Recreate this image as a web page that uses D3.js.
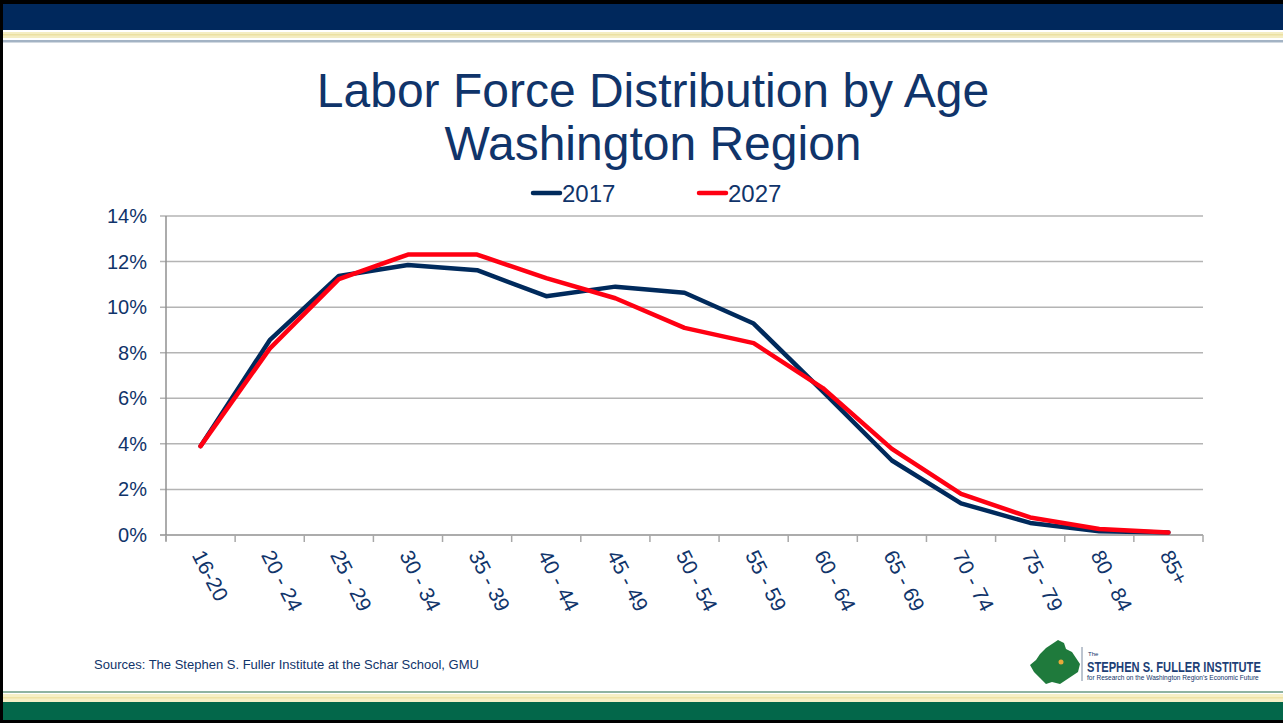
<!DOCTYPE html>
<html>
<head>
<meta charset="utf-8">
<script src="https://cdn.jsdelivr.net/npm/d3@7"></script>
<style>
  body { margin: 0; background: #fff; }
  svg { display: block; font-family: "Liberation Sans", Arial, sans-serif; }
</style>
</head>
<body>
<svg id="slide" width="1283" height="723"></svg>
<script>
// chart data
var ageGroups = ["16-20", "20 - 24", "25 - 29", "30 - 34", "35 - 39", "40 - 44", "45 - 49",
                 "50 - 54", "55 - 59", "60 - 64", "65 - 69", "70 - 74", "75 - 79", "80 - 84", "85+"]
var share2017 = [3.9, 8.55, 11.37, 11.85, 11.62, 10.48, 10.9, 10.63, 9.28, 6.3, 3.27, 1.39, 0.53, 0.16, 0.11]
var share2027 = [3.9, 8.18, 11.23, 12.31, 12.31, 11.27, 10.39, 9.09, 8.42, 6.45, 3.78, 1.8, 0.77, 0.26, 0.11]
var yTicks = [0, 2, 4, 6, 8, 10, 12, 14]
var seriesNames = ["2017", "2027"]

var navy = "#002a5c"
var red = "#ff0012"
var textColor = "#10346a"

var svg = d3.select("svg#slide")

// slide frame: top and bottom bands
svg.append("rect").attr("x", 0).attr("y", 0).attr("width", 1283).attr("height", 723).attr("fill", "#000")
svg.append("rect").attr("x", 3).attr("y", 4).attr("width", 1280).attr("height", 716).attr("fill", "#fff")
svg.append("rect").attr("x", 3).attr("y", 4).attr("width", 1280).attr("height", 26).attr("fill", "#00285c")
svg.append("rect").attr("x", 3).attr("y", 32).attr("width", 1280).attr("height", 6).attr("fill", "#f4edc2")
svg.append("rect").attr("x", 3).attr("y", 34).attr("width", 1280).attr("height", 1.5).attr("fill", "#ebe0a2")
svg.append("rect").attr("x", 3).attr("y", 40).attr("width", 1280).attr("height", 2.5).attr("fill", "#a3b3c4")

svg.append("rect").attr("x", 3).attr("y", 691).attr("width", 1280).attr("height", 2).attr("fill", "#8fb3a2")
svg.append("rect").attr("x", 3).attr("y", 694).attr("width", 1280).attr("height", 8).attr("fill", "#f6efc6")
svg.append("rect").attr("x", 3).attr("y", 697).attr("width", 1280).attr("height", 1.5).attr("fill", "#eee2a4")
svg.append("rect").attr("x", 3).attr("y", 702).attr("width", 1280).attr("height", 18).attr("fill", "#03674a")

// title
var title = svg.append("text")
    .attr("text-anchor", "middle")
    .attr("fill", textColor)
    .attr("font-size", 48)
title.append("tspan").attr("x", 653).attr("y", 107).text("Labor Force Distribution by Age")
title.append("tspan").attr("x", 653).attr("y", 160).text("Washington Region")

// scales
var margin = {left: 166, right: 1203, top: 216, bottom: 535}
var x = d3.scaleBand().domain(ageGroups).range([margin.left, margin.right])
var y = d3.scaleLinear().domain([0, 14]).range([margin.bottom, margin.top])

// gridlines
svg.append("g")
  .selectAll("line")
  .data(yTicks)
  .enter().append("line")
    .attr("x1", margin.left - 6)
    .attr("x2", margin.right)
    .attr("y1", d => y(d))
    .attr("y2", d => y(d))
    .attr("stroke", d => d === 0 ? "#909090" : "#b4b4b4")
    .attr("stroke-width", 1.5)

// y axis line
svg.append("line")
    .attr("x1", margin.left).attr("x2", margin.left)
    .attr("y1", margin.top).attr("y2", margin.bottom + 6)
    .attr("stroke", "#909090").attr("stroke-width", 1.5)

// y tick labels
svg.append("g")
  .selectAll("text")
  .data(yTicks)
  .enter().append("text")
    .attr("x", 147)
    .attr("y", d => y(d) + 7)
    .attr("text-anchor", "end")
    .attr("fill", textColor)
    .attr("font-size", 20)
    .text(d => d + "%")

// x ticks at band boundaries
var boundaries = ageGroups.map(d => x(d)).concat([margin.right])
svg.append("g")
  .selectAll("line")
  .data(boundaries)
  .enter().append("line")
    .attr("x1", d => d).attr("x2", d => d)
    .attr("y1", margin.bottom).attr("y2", margin.bottom + 7)
    .attr("stroke", "#a8a8a8").attr("stroke-width", 1.5)

// x labels, rotated
svg.append("g")
  .selectAll("text")
  .data(ageGroups)
  .enter().append("text")
    .attr("transform", d => "translate(" + (x(d) + x.bandwidth() / 2 - 9) + "," + (555) + ") rotate(63)")
    .attr("fill", textColor)
    .attr("font-size", 21)
    .text(d => d)

// lines
var line = d3.line()
    .x((d, i) => x(ageGroups[i]) + x.bandwidth() / 2)
    .y(d => y(d))

svg.append("path")
    .datum(share2017)
    .attr("d", line)
    .attr("fill", "none")
    .attr("stroke", navy)
    .attr("stroke-width", 4.5)
    .attr("stroke-linejoin", "round")
    .attr("stroke-linecap", "round")

svg.append("path")
    .datum(share2027)
    .attr("d", line)
    .attr("fill", "none")
    .attr("stroke", red)
    .attr("stroke-width", 4.5)
    .attr("stroke-linejoin", "round")
    .attr("stroke-linecap", "round")

// legend
var legendX = [532, 698]
var legendColors = [navy, red]
var legend = svg.append("g")
  .selectAll("g")
  .data(seriesNames)
  .enter().append("g")
    .attr("transform", (d, i) => "translate(" + legendX[i] + ",193)")
legend.append("line")
    .attr("x1", 1).attr("x2", 28)
    .attr("stroke", (d, i) => legendColors[i])
    .attr("stroke-width", 4.5)
    .attr("stroke-linecap", "round")
legend.append("text")
    .attr("x", 30)
    .attr("y", 9)
    .attr("fill", textColor)
    .attr("font-size", 24)
    .text(d => d)

// source note
svg.append("text")
    .attr("x", 94).attr("y", 669)
    .attr("fill", textColor)
    .attr("font-size", 13)
    .text("Sources: The Stephen S. Fuller Institute at the Schar School, GMU")

// logo
var logo = svg.append("g")
logo.append("path")
    .attr("d", "M1046,648 L1052,644 L1058,640 L1064,643 L1066,649 L1072,652 L1076,658 L1080,664 L1078,672 L1072,676 L1066,680 L1060,684 L1052,682 L1046,684 L1040,678 L1034,672 L1030,665 L1036,660 L1040,654 Z")
    .attr("fill", "#1f7a3c")
logo.append("circle").attr("cx", 1061).attr("cy", 662).attr("r", 2.5).attr("fill", "#e8a93a")
logo.append("line")
    .attr("x1", 1082).attr("x2", 1082).attr("y1", 647).attr("y2", 681)
    .attr("stroke", "#7a8aa0").attr("stroke-width", 1)
logo.append("text").attr("x", 1088).attr("y", 656).attr("font-size", 6).attr("fill", textColor).text("The")

// squeeze the logo lines horizontally to fit their width
function squeezed(str, size, weight, fill, yPos, w) {
  var t = logo.append("text")
      .attr("font-family", "'Liberation Sans Narrow', 'Liberation Sans', sans-serif")
      .attr("font-size", size).attr("font-weight", weight)
      .attr("fill", fill).text(str)
  var natural = t.node().getComputedTextLength()
  var k = Math.min(1, w / natural)
  t.attr("transform", "translate(1087," + yPos + ") scale(" + k + ",1)")
}
squeezed("STEPHEN S. FULLER INSTITUTE", 15, "bold", "#1d3f76", 672, 174)
squeezed("for Research on the Washington Region's Economic Future", 7, "normal", textColor, 680, 172)
</script>
</body>
</html>
